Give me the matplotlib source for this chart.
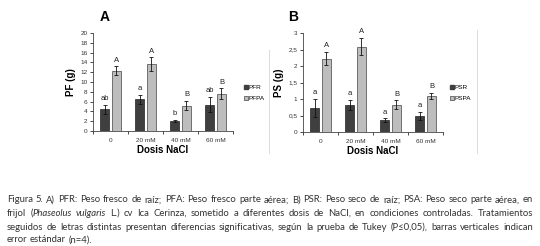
import numpy as np
import matplotlib
matplotlib.use('Agg')
import matplotlib.pyplot as plt
from matplotlib.lines import Line2D

doses = ['0', '20 mM', '40 mM', '60 mM']

# panel A: fresh weight
pfr = [4.4, 6.5, 2.1, 5.4]
pfr_err = [0.9, 0.9, 0.2, 1.6]
pfpa = [12.3, 13.6, 5.2, 7.6]
pfpa_err = [0.9, 1.4, 0.9, 1.1]
pfr_let = ['ab', 'a', 'b', 'ab']
pfpa_let = ['A', 'A', 'B', 'B']

# panel B: dry weight
psr = [0.73, 0.83, 0.36, 0.49]
psr_err = [0.27, 0.15, 0.05, 0.12]
pspa = [2.22, 2.59, 0.83, 1.09]
pspa_err = [0.20, 0.27, 0.13, 0.09]
psr_let = ['a', 'a', 'a', 'a']
pspa_let = ['A', 'A', 'B', 'B']

caption = [
    [("Figura 5. A) PFR: Peso fresco de raíz; PFA: Peso fresco parte aérea; B) PSR: Peso seco de raíz; PSA: Peso seco parte aérea, en", False)],
    [("frijol (", False), ("Phaseolus vulgaris", True), (" L.) cv Ica Cerinza, sometido a diferentes dosis de NaCl, en condiciones controladas. Tratamientos", False)],
    [("seguidos de letras distintas presentan diferencias significativas, según la prueba de Tukey (P≤0,05), barras verticales indican", False)],
    [("error estándar (n=4).", False)],
]

dark = '#3f3f3f'
light = '#bdbdbd'
chart_font = 'Liberation Sans'
cap_font = ['Lato', 'DejaVu Sans']

fig = plt.figure(figsize=(5.4, 2.46), dpi=100)


def panel(rect, r, r_err, a, a_err, r_let, a_let, ymax, ystep, ylabel, title, title_x, labels, leg_x, fmt):
    ax = fig.add_axes(rect)
    x = np.arange(len(doses))
    w = 0.26
    off = 0.17
    ax.bar(x - off, r, w, color=dark, edgecolor='#222222', linewidth=0.5, zorder=2)
    ax.bar(x + off, a, w, color=light, edgecolor='#444444', linewidth=0.5, zorder=2)
    ekw = dict(fmt='none', ecolor='#111111', elinewidth=0.6, capsize=1.5, capthick=0.6, zorder=3)
    ax.errorbar(x - off, r, yerr=r_err, **ekw)
    ax.errorbar(x + off, a, yerr=a_err, **ekw)
    for i in range(len(doses)):
        ax.annotate(r_let[i], (x[i] - off, r[i] + r_err[i]), xytext=(0, 2), textcoords='offset points',
                    ha='center', va='bottom', fontsize=5.5, family=chart_font, color='#222222')
        ax.annotate(a_let[i], (x[i] + off, a[i] + a_err[i]), xytext=(0, 2), textcoords='offset points',
                    ha='center', va='bottom', fontsize=5.5, family=chart_font, color='#222222')
    ax.set_xlim(-0.5, len(doses) - 0.5)
    ax.set_ylim(0, ymax)
    yt = np.arange(0, ymax + ystep / 2, ystep)
    ax.set_yticks(yt)
    ax.set_yticklabels([fmt(v) for v in yt])
    ax.set_xticks(x)
    ax.set_xticklabels(doses)
    ax.set_xticks(np.arange(-0.5, len(doses)), minor=True)
    ax.tick_params(axis='x', which='major', length=0, pad=5)
    ax.tick_params(axis='x', which='minor', length=2, width=0.5)
    ax.tick_params(axis='y', length=2, width=0.5, pad=2)
    for lab in ax.get_xticklabels() + ax.get_yticklabels():
        lab.set_fontsize(4.6)
        lab.set_family(chart_font)
        lab.set_color('#333333')
    for s in ['top', 'right']:
        ax.spines[s].set_visible(False)
    for s in ['left', 'bottom']:
        ax.spines[s].set_linewidth(0.6)
        ax.spines[s].set_color('#444444')
    ax.set_ylabel(ylabel, fontsize=7, fontweight='bold', family=chart_font, labelpad=3)
    ax.set_xlabel('Dosis NaCl', fontsize=7, fontweight='bold', family=chart_font, labelpad=1.5)
    fig.text(title_x, 1 - 17 / 246, title, fontsize=10, fontweight='bold', family=chart_font,
             ha='center', va='center')
    handles = [Line2D([], [], marker='s', ls='none', color=dark, markersize=3),
               Line2D([], [], marker='s', ls='none', markerfacecolor=light, markeredgecolor='#444444',
                      markeredgewidth=0.5, markersize=3)]
    ax.legend(handles, labels, loc='center left', bbox_to_anchor=(leg_x, 1 - 93 / 246),
              bbox_transform=fig.transFigure, frameon=False, prop={'family': chart_font, 'size': 4.6},
              handlelength=0.5, handletextpad=0.2, labelspacing=0.8, borderaxespad=0, borderpad=0)
    return ax


def num_int(v):
    return '%d' % v


def num_comma(v):
    return ('%g' % v).replace('.', ',')


panel([93 / 540, 1 - 131 / 246, 140 / 540, 98 / 246], pfr, pfr_err, pfpa, pfpa_err, pfr_let, pfpa_let,
      20, 2, 'PF (g)', 'A', 105 / 540, ['PFR', 'PFPA'], 244 / 540, num_int)
panel([303 / 540, 1 - 132 / 246, 140 / 540, 99 / 246], psr, psr_err, pspa, pspa_err, psr_let, pspa_let,
      3, 0.5, 'PS (g)', 'B', 293 / 540, ['PSR', 'PSPA'], 450 / 540, num_comma)

# thin frame edges of the original panels
fig.add_artist(Line2D([269 / 540, 269 / 540], [1 - 50 / 246, 1 - 153 / 246], color='#dddddd', lw=0.8))
fig.add_artist(Line2D([477 / 540, 477 / 540], [1 - 30 / 246, 1 - 153 / 246], color='#dddddd', lw=0.8))

# justified caption
fig.canvas.draw()
rend = fig.canvas.get_renderer()
x0, x1 = 7.0, 533.0
line_y = [200, 213, 227, 240]
cap_size = 6.85


def measure(text, ital=False):
    t = fig.text(0, 0, text, fontsize=cap_size, family=cap_font, style='italic' if ital else 'normal')
    wv = t.get_window_extent(rend).width
    t.remove()
    return wv


def words_of(line):
    words = []
    for text, ital in line:
        parts = text.split(' ')
        for j, p in enumerate(parts):
            if not p:
                continue
            if j == 0 and words and not text.startswith(' '):
                words[-1].append((p, ital))
            else:
                words.append([(p, ital)])
    return words


space = measure('a b') - measure('ab')
for k, line in enumerate(caption):
    words = words_of(line)
    y = 1 - line_y[k] / 246
    widths = [sum(measure(s, it) for s, it in wd) for wd in words]
    gap = space
    if k < len(caption) - 1:
        gap = max((x1 - x0 - sum(widths)) / (len(words) - 1), 1.0)
    xp = x0
    for wd, wdt in zip(words, widths):
        xs = xp
        for text, ital in wd:
            fig.text(xs / 540, y, text, fontsize=cap_size, family=cap_font, color='#333333',
                     style='italic' if ital else 'normal', va='center', ha='left')
            xs += measure(text, ital)
        xp += wdt + gap

fig.savefig('out.png', dpi=100)
